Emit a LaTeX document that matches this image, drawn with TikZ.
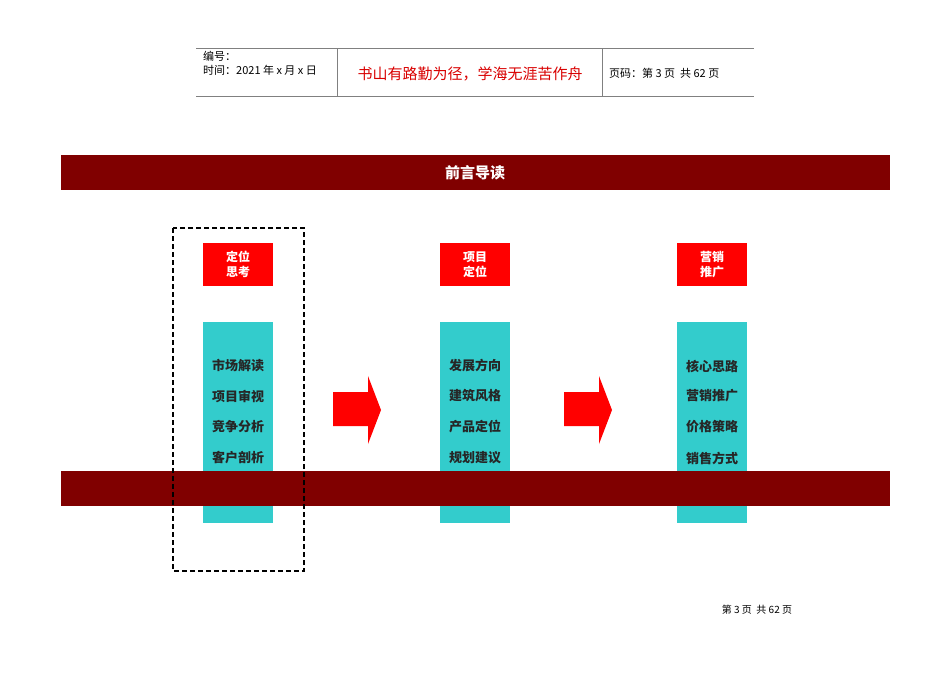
\documentclass[tikz,border=0pt]{standalone}
\usepackage{fontspec}
\setmainfont{Noto Sans CJK SC}
\definecolor{dred}{HTML}{800000}
\definecolor{cyanb}{HTML}{33CCCC}
\begin{document}
\begin{tikzpicture}[x=1pt,y=-1pt,
  band/.style={fill=dred,draw=none},
  redbox/.style={fill=red,draw=none,minimum width=70pt,minimum height=43pt,text=white,font=\bfseries\fontsize{12}{15}\selectfont,align=center},
  cyanbox/.style={fill=cyanb,draw=none,minimum width=70pt,minimum height=201pt},
  item/.style={font=\bfseries\fontsize{13}{15}\selectfont,text=black!85},
  bigarrow/.style={fill=red,draw=none},
  hdr/.style={font=\fontsize{11}{13}\selectfont,anchor=west,inner sep=0pt}]
\useasboundingbox (0,0) rectangle (950,672);
\fill[white] (0,0) rectangle (950,672);
% header
\draw[gray,line width=0.8pt] (196,48) -- (754,48) (196,96) -- (754,96) (337,48) -- (337,96) (602,48) -- (602,96);
\node[hdr] (bh) at (203,56) {编号：};
\node[hdr] (sj) at (203,70) {时间：2021 年 x 月 x 日};
\node[font=\fontsize{15}{17}\selectfont,text=red!85!black] (motto) at (470,74) {书山有路勤为径，学海无涯苦作舟};
\node[hdr] (ym) at (609,73) {页码：第 3 页\ \ 共 62 页};
% banner
\fill[band] (61,155) rectangle (890,190);
\node[text=white,font=\bfseries\fontsize{15}{17}\selectfont] (title) at (475,173) {前言导读};
% columns
\node[cyanbox] (c1) at (238,422.5) {};
\node[cyanbox] (c2) at (475,422.5) {};
\node[cyanbox] (c3) at (712,422.5) {};
\node[redbox] (r1) at (238,264.5) {定位\\思考};
\node[redbox] (r2) at (475,264.5) {项目\\定位};
\node[redbox] (r3) at (712,264.5) {营销\\推广};
\foreach \x/\a/\b/\c/\d [count=\i] in {238/市场解读/项目审视/竞争分析/客户剖析,475/发展方向/建筑风格/产品定位/规划建议,712/核心思路/营销推广/价格策略/销售方式}{
  \node[item] (t\i a) at (\x,366) {\a};
  \node[item] (t\i b) at (\x,396) {\b};
  \node[item] (t\i c) at (\x,427) {\c};
  \node[item] (t\i d) at (\x,458) {\d};
}
\fill[band] (61,471) rectangle (890,506);
\draw[line width=1.2pt,dash pattern=on 5pt off 3pt] (173,228) rectangle (304,571);
\fill[bigarrow] (333,392) -- (368,392) -- (368,376) -- (381,410) -- (368,444) -- (368,426) -- (333,426) -- cycle;
\fill[bigarrow] (564,392) -- (599,392) -- (599,376) -- (612,410) -- (599,444) -- (599,426) -- (564,426) -- cycle;
\node[font=\fontsize{10}{12}\selectfont] (foot) at (757,610) {第 3 页\ \ 共 62 页};
\end{tikzpicture}
\end{document}
